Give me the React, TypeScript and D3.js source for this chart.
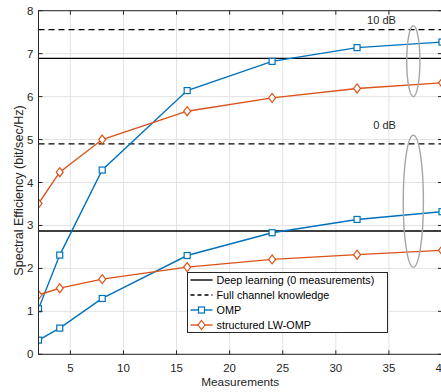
import React from "react";
import * as d3 from "d3";

const measurements = [2, 4, 8, 16, 24, 32, 40];
const omp10 = [1.06, 2.31, 4.29, 6.14, 6.82, 7.14, 7.27];
const omp0 = [0.33, 0.61, 1.3, 2.3, 2.83, 3.14, 3.32];
const lw10 = [3.51, 4.24, 5.0, 5.66, 5.97, 6.19, 6.32];
const lw0 = [1.38, 1.54, 1.75, 2.03, 2.21, 2.32, 2.42];
const deepLearning = [6.89, 2.87];
const fullChannel = [7.56, 4.9];
const xTicks = [5, 10, 15, 20, 25, 30, 35, 40];
const yTicks = [0, 1, 2, 3, 4, 5, 6, 7, 8];
const snrLabels = [
  { text: "10 dB", x: 34.3, y: 7.78 },
  { text: "0 dB", x: 34.6, y: 5.35 },
];
const ellipses = [
  { cx: 37.3, y0: 6.0, y1: 7.65, rx: 0.62 },
  { cx: 37.3, y0: 2.03, y1: 5.1, rx: 0.95 },
];
const legendItems = [
  "Deep learning (0 measurements)",
  "Full channel knowledge",
  "OMP",
  "structured LW-OMP",
];

const BLUE = "#0072BD";
const ORANGE = "#D95319";
const TXT = "#262626";

export default function App() {
  const W = 441, H = 392;
  const left = 38.5, right = 442, top = 10.7, bottom = 354.3;
  const x = d3.scaleLinear().domain([2, 40]).range([left, right]);
  const y = d3.scaleLinear().domain([0, 8]).range([bottom, top]);
  const line = d3.line<number>().x((_, i) => x(measurements[i])).y((d) => y(d));

  const square = (cx: number, cy: number, key: string) => (
    <rect key={key} x={cx - 3} y={cy - 3} width={6} height={6} fill="white" stroke={BLUE} strokeWidth={1.2} />
  );
  const diamond = (cx: number, cy: number, key: string) => (
    <path key={key} d={`M${cx},${cy - 4.5}L${cx + 3.5},${cy}L${cx},${cy + 4.5}L${cx - 3.5},${cy}Z`} fill="white" stroke={ORANGE} strokeWidth={1.2} />
  );

  const font = "'Liberation Sans', Arial, Helvetica, sans-serif";
  const lx = 187.5, ly = 272.5, lw = 200, lh = 60;

  return (
    <svg width={W} height={H} style={{ position: "absolute", left: 0, top: 0, background: "white" }} fontFamily={font}>
      <rect x={0} y={0} width={W} height={H} fill="white" />
      <defs>
        <clipPath id="plot">
          <rect x={left} y={top} width={right - left} height={bottom - top} />
        </clipPath>
      </defs>
      {/* grid */}
      {xTicks.map((t) => (
        <line key={"gx" + t} x1={x(t)} x2={x(t)} y1={top} y2={bottom} stroke="#e3e3e3" strokeWidth={1} />
      ))}
      {yTicks.map((t) => (
        <line key={"gy" + t} x1={left} x2={right} y1={y(t)} y2={y(t)} stroke="#e3e3e3" strokeWidth={1} />
      ))}
      <g clipPath="url(#plot)">
        {deepLearning.map((v, i) => (
          <line key={"dl" + i} x1={left} x2={right} y1={y(v)} y2={y(v)} stroke="black" strokeWidth={1.4} />
        ))}
        {fullChannel.map((v, i) => (
          <line key={"fc" + i} x1={left} x2={right} y1={y(v)} y2={y(v)} stroke="black" strokeWidth={1.4} strokeDasharray="6,4" />
        ))}
        {[omp10, omp0].map((s, k) => (
          <path key={"o" + k} d={line(s) || ""} fill="none" stroke={BLUE} strokeWidth={1.4} />
        ))}
        {[lw10, lw0].map((s, k) => (
          <path key={"l" + k} d={line(s) || ""} fill="none" stroke={ORANGE} strokeWidth={1.4} />
        ))}
        {[omp10, omp0].map((s, k) => s.map((v, i) => square(x(measurements[i]), y(v), `s${k}-${i}`)))}
        {[lw10, lw0].map((s, k) => s.map((v, i) => diamond(x(measurements[i]), y(v), `d${k}-${i}`)))}
        {ellipses.map((e, i) => (
          <ellipse key={"e" + i} cx={x(e.cx)} cy={(y(e.y0) + y(e.y1)) / 2} rx={x(e.cx + e.rx) - x(e.cx)} ry={(y(e.y0) - y(e.y1)) / 2} fill="none" stroke="#a6a6a6" strokeWidth={1.4} />
        ))}
      </g>
      {snrLabels.map((l) => (
        <text key={l.text} x={x(l.x)} y={y(l.y)} fontSize={11} fill={TXT} textAnchor="middle" dominantBaseline="central">{l.text}</text>
      ))}
      {/* axes box */}
      <rect x={left} y={top} width={right - left} height={bottom - top} fill="none" stroke={TXT} strokeWidth={1} />
      {xTicks.map((t) => (
        <g key={"xt" + t}>
          <line x1={x(t)} x2={x(t)} y1={bottom} y2={bottom - 4} stroke={TXT} />
          <line x1={x(t)} x2={x(t)} y1={top} y2={top + 4} stroke={TXT} />
          <text x={x(t)} y={bottom + 14} fontSize={11.5} fill={TXT} textAnchor="middle" dominantBaseline="central">{t}</text>
        </g>
      ))}
      {yTicks.map((t) => (
        <g key={"yt" + t}>
          <line x1={left} x2={left + 4} y1={y(t)} y2={y(t)} stroke={TXT} />
          <line x1={right} x2={right - 4} y1={y(t)} y2={y(t)} stroke={TXT} />
          <text x={left - 5} y={y(t)} fontSize={11.5} fill={TXT} textAnchor="end" dominantBaseline="central">{t}</text>
        </g>
      ))}
      <text x={(left + right) / 2} y={381.5} fontSize={11.8} fill={TXT} textAnchor="middle" dominantBaseline="central">Measurements</text>
      <text transform={`translate(18.5,190.5) rotate(-90)`} fontSize={12.6} fill={TXT} textAnchor="middle" dominantBaseline="central">Spectral Efficiency (bit/sec/Hz)</text>
      {/* legend */}
      <rect x={lx} y={ly} width={lw} height={lh} fill="white" stroke={TXT} strokeWidth={1} />
      {legendItems.map((name, i) => {
        const cy = ly + 7.5 + i * 15;
        const x1 = lx + 3, x2 = lx + 25;
        const mid = (x1 + x2) / 2;
        return (
          <g key={name}>
            <line x1={x1} x2={x2} y1={cy} y2={cy} stroke={i < 2 ? "black" : i === 2 ? BLUE : ORANGE} strokeWidth={1.4} strokeDasharray={i === 1 ? "4,3" : undefined} />
            {i === 2 && square(mid, cy, "ls")}
            {i === 3 && diamond(mid, cy, "ld")}
            <text x={lx + 29} y={cy} fontSize={10.8} fill="black" dominantBaseline="central">{name}</text>
          </g>
        );
      })}
    </svg>
  );
}
